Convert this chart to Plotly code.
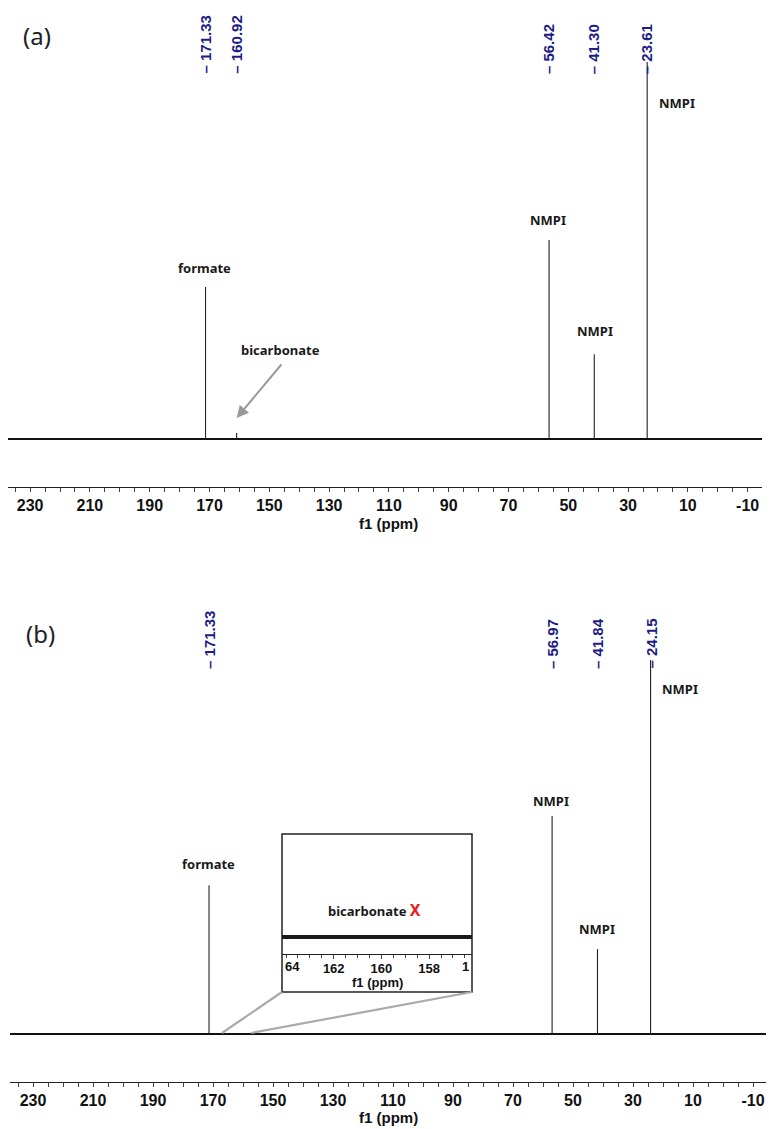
import plotly.graph_objects as go

W, H = 769, 1129

# ---------------- data ----------------
# panel (a)
peaks_a_ppm = [171.33, 160.92, 56.42, 41.30, 23.61]
peaks_a_int = [40.3, 1.6, 52.8, 22.5, 100.0]
labels_a = ["171.33", "160.92", "56.42", "41.30", "23.61"]
# panel (b)
peaks_b_ppm = [171.33, 56.97, 41.84, 24.15]
peaks_b_int = [39.8, 58.3, 22.7, 100.0]
labels_b = ["171.33", "56.97", "41.84", "24.15"]
# axes
main_ticks = [230, 210, 190, 170, 150, 130, 110, 90, 70, 50, 30, 10, -10]
inset_ticks = [162, 160, 158]
range_a = [237.4, -14.8]
range_b = [237.67, -14.33]
range_inset = [164.17, 156.2]


def px(x):
    return x / W


def py(y):
    return 1 - y / H


def sticks(ppm, inten):
    xs, ys = [], []
    for p, h in zip(ppm, inten):
        xs += [p, p, None]
        ys += [0, h, None]
    return xs, ys


fig = go.Figure()

BASE = "#111111"
NAVY = "#1c1c85"

# panel (a)
fig.add_trace(go.Scatter(x=range_a, y=[0, 0], mode="lines",
                         line=dict(color=BASE, width=1.8), xaxis="x", yaxis="y",
                         showlegend=False, hoverinfo="skip"))
xs, ys = sticks(peaks_a_ppm, peaks_a_int)
fig.add_trace(go.Scatter(x=xs, y=ys, mode="lines",
                         line=dict(color="#222222", width=1.1), xaxis="x", yaxis="y",
                         showlegend=False, hoverinfo="skip"))
# panel (b)
fig.add_trace(go.Scatter(x=range_b, y=[0, 0], mode="lines",
                         line=dict(color=BASE, width=1.8), xaxis="x2", yaxis="y2",
                         showlegend=False, hoverinfo="skip"))
xs, ys = sticks(peaks_b_ppm, peaks_b_int)
fig.add_trace(go.Scatter(x=xs, y=ys, mode="lines",
                         line=dict(color="#222222", width=1.1), xaxis="x2", yaxis="y2",
                         showlegend=False, hoverinfo="skip"))
# inset
fig.add_trace(go.Scatter(x=range_inset, y=[0, 0], mode="lines",
                         line=dict(color="#1a1a1a", width=4), xaxis="x3", yaxis="y3",
                         showlegend=False, hoverinfo="skip"))

axis_common = dict(showgrid=False, zeroline=False, showline=True, linecolor="#222",
                   linewidth=1, ticks="outside", ticklen=4, tickcolor="#444",
                   tickfont=dict(family="Liberation Sans, Arial", size=16, color="#111",
                                 weight="bold"),
                   tickvals=main_ticks, ticktext=[str(t) for t in main_ticks],
                   minor=dict(dtick=5, tick0=0, ticks="outside", ticklen=4, tickcolor="#444"),
                   fixedrange=True)

fig.update_layout(
    width=W, height=H,
    margin=dict(l=0, r=0, t=0, b=0),
    paper_bgcolor="white", plot_bgcolor="rgba(0,0,0,0)",
    xaxis=dict(domain=[px(8), px(762)], range=range_a, anchor="y", **axis_common),
    yaxis=dict(domain=[py(487), py(10)], range=[-48 / 3.77, 429 / 3.77], visible=False),
    xaxis2=dict(domain=[px(10), px(766)], range=range_b, anchor="y2", **axis_common),
    yaxis2=dict(domain=[py(1082), py(600)], range=[-48 / 3.74, 434 / 3.74], visible=False),
    xaxis3=dict(domain=[px(282), px(472)], range=range_inset, anchor="y3",
                showgrid=False, zeroline=False, showline=True, linecolor="#222",
                linewidth=1, ticks="outside", ticklen=4, tickcolor="#444",
                tickvals=inset_ticks, ticktext=[str(t) for t in inset_ticks],
                tickfont=dict(family="Liberation Sans, Arial", size=13, color="#111",
                              weight="bold"),
                ticklabelstandoff=-2,
                minor=dict(dtick=0.5, tick0=0, ticks="outside", ticklen=3, tickcolor="#444")),
    yaxis3=dict(domain=[py(954), py(834)], range=[-17, 103], visible=False),
)

ann = []
lab_font = dict(family="Noto Sans", size=13, color="#1a1a1a", weight="bold")


def txt(x, y, t, font, **kw):
    d = dict(x=px(x), y=py(y), xref="paper", yref="paper", text=t, showarrow=False,
             xanchor="center", yanchor="middle", font=font)
    d.update(kw)
    return d


# rotated peak labels
peak_font = dict(family="Liberation Sans, Arial", size=15, color=NAVY, weight="bold")
for p, t in zip(peaks_a_ppm, labels_a):
    ann.append(dict(x=p, xref="x", y=py(76), yref="paper", text="\u2013 " + t,
                    textangle=-90, showarrow=False, xanchor="center", yanchor="bottom",
                    font=peak_font))
for p, t in zip(peaks_b_ppm, labels_b):
    ann.append(dict(x=p, xref="x2", y=py(671), yref="paper", text="\u2013 " + t,
                    textangle=-90, showarrow=False, xanchor="center", yanchor="bottom",
                    font=peak_font))

# panel letters
ann.append(txt(37, 35, "(a)", dict(family="Noto Sans", size=24, color="#222")))
ann.append(txt(40, 633, "(b)", dict(family="Noto Sans", size=24, color="#222")))

# axis titles
ax_font = dict(family="Liberation Sans, Arial", size=15, color="#111", weight="bold")
ann.append(txt(388, 523, "f1 (ppm)", ax_font))
ann.append(txt(388, 1117, "f1 (ppm)", ax_font))
in_font = dict(family="Liberation Sans, Arial", size=13, color="#111", weight="bold")
ann.append(txt(377, 982, "f1 (ppm)", in_font))
# clipped edge tick labels of the inset
ann.append(txt(283, 966, "64", in_font, xanchor="left"))
ann.append(txt(471, 966, "1", in_font, xanchor="right"))

# compound labels (a)
for (x, y, t) in [(204, 268, "formate"), (280, 350, "bicarbonate"),
                  (548, 220, "NMPI"), (595, 331, "NMPI"), (677, 103, "NMPI")]:
    ann.append(txt(x, y, t, lab_font))
# compound labels (b)
for (x, y, t) in [(208, 864, "formate"), (551, 801, "NMPI"), (597, 929, "NMPI"),
                  (680, 689, "NMPI")]:
    ann.append(txt(x, y, t, lab_font))
ann.append(txt(374, 910,
               "bicarbonate <span style='color:#e8201c;font-size:16px'><b>X</b></span>",
               lab_font))

# bicarbonate arrow (a)
ann.append(dict(x=160.92, xref="x", y=py(418), yref="paper", ax=46, ay=-55,
                text="", showarrow=True, arrowhead=2, arrowsize=1.2, arrowwidth=2,
                arrowcolor="#999999"))

fig.update_layout(annotations=ann)

# inset box and connector lines
shapes = [
    dict(type="rect", xref="paper", yref="paper", x0=px(282), x1=px(472),
         y0=py(992), y1=py(834), line=dict(color="#222", width=1.5)),
    dict(type="line", xref="paper", yref="paper", x0=px(222), y0=py(1033),
         x1=px(282), y1=py(992), line=dict(color="#aaaaaa", width=2.2)),
    dict(type="line", xref="paper", yref="paper", x0=px(251), y0=py(1033),
         x1=px(472), y1=py(992), line=dict(color="#aaaaaa", width=2.2)),
]
fig.update_layout(shapes=shapes)

fig.write_html("out.html", config={"displayModeBar": False},
               post_script="document.body.style.margin='0px';document.body.style.overflow='hidden';")
